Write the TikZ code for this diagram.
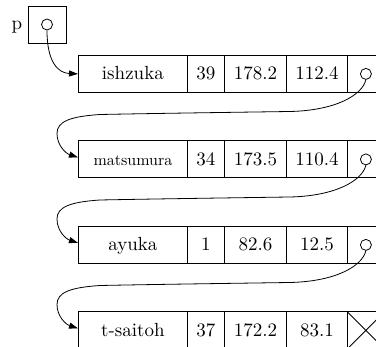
\documentclass[tikz,border=0pt]{standalone}
\usepackage{fontspec}
\setmainfont{lmroman10-regular.otf}
\usetikzlibrary{arrows.meta}

\begin{document}
\begin{tikzpicture}[x=1pt, y=-1pt, line width=0.8pt,
  cell/.style={draw, rectangle, anchor=north west, minimum height=37pt,
    inner sep=0pt, text height=12pt, text depth=0pt,
    font=\fontsize{19}{23}\selectfont},
  smallcell/.style={cell, font=\fontsize{16}{19}\selectfont},
  ptr/.style={draw, circle, minimum size=11pt, inner sep=0pt},
  link/.style={-{Triangle[length=9pt,width=6pt]}}]
\useasboundingbox (0,0) rectangle (376,347);
\clip (0,0) rectangle (376,347);

% head pointer p
\node[draw, rectangle, minimum width=38pt, minimum height=37pt, inner sep=0pt] (pbox) at (47,24.5) {};
\node[ptr] (pp) at (pbox.center) {};
\node[anchor=base east, inner sep=0pt, font=\fontsize{19}{23}\selectfont] (plabel) at (22.5,30) {p};

% list records: name, age, height, weight, next
\foreach \k/\nm/\ag/\hg/\wg/\yy/\st in {
    1/ishzuka/39/178.2/112.4/55/cell,
    2/matsumura/34/173.5/110.4/140.5/smallcell,
    3/ayuka/1/82.6/12.5/226/cell,
    4/t-saitoh/37/172.2/83.1/311.5/cell} {
  \node[\st, minimum width=109pt] (n\k) at (78,\yy) {\nm};
  \node[cell, minimum width=37pt] (a\k) at (187,\yy) {\ag};
  \node[cell, minimum width=62pt] (h\k) at (224,\yy) {\hg};
  \node[cell, minimum width=61pt] (w\k) at (286,\yy) {\wg};
  \node[cell, minimum width=37pt] (x\k) at (347,\yy) {};
}
\foreach \k in {1,2,3} {
  \node[ptr] (c\k) at (x\k.center) {};
}
% null pointer in the last record
\draw (x4.north west) -- (x4.south east) (x4.south west) -- (x4.north east);

% links
\draw[link] (pp.south) .. controls (47,62) and (58,73) .. (n1.west);
\foreach \k/\r [evaluate=\k as \nk using int(\k+1)] in {1/73.5,2/159,3/244.5} {
  \draw[link] (c\k.south) .. controls (362,\r+22) and (335,\r+37) .. (290,\r+38)
    .. controls (220,\r+39) and (150,\r+40) .. (100,\r+41)
    .. controls (70,\r+43) and (57,\r+48) .. (57,\r+60)
    .. controls (57,\r+72) and (66,\r+80) .. ([yshift=2pt]n\nk.west);
}
\end{tikzpicture}
\end{document}
